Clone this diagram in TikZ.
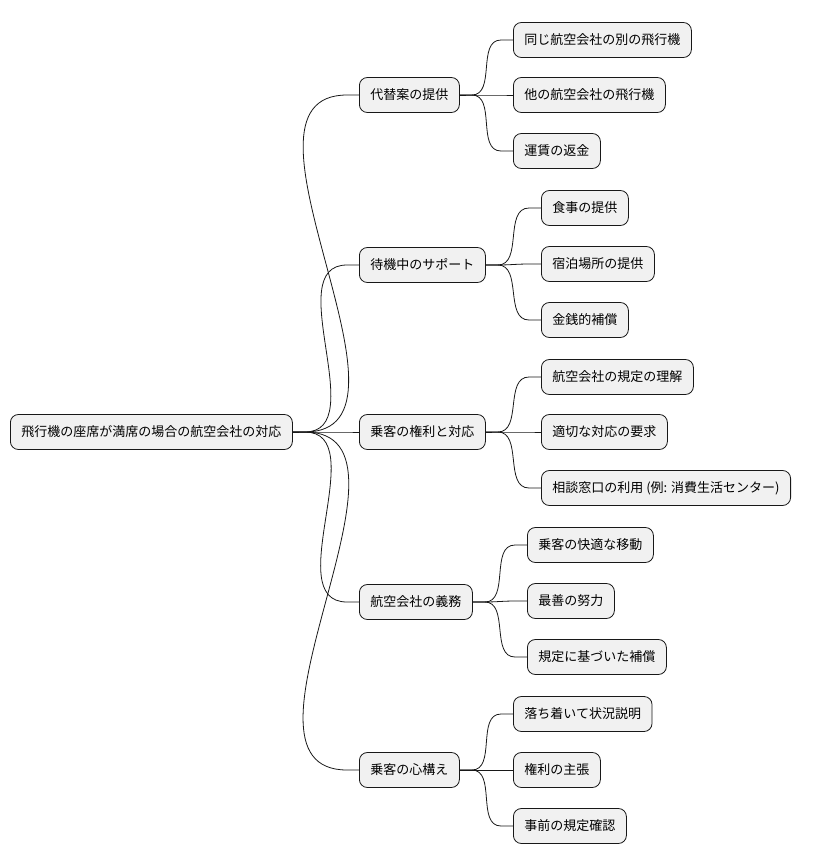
\documentclass[tikz,border=0pt]{standalone}
\usepackage{fontspec}
\setmainfont{Noto Sans CJK JP}
\usetikzlibrary{calc}
\definecolor{boxfill}{HTML}{F1F1F1}
\definecolor{boxline}{HTML}{181818}
\tikzset{
  topic/.style={draw=boxline, fill=boxfill, rounded corners=8pt, minimum height=35pt,
    inner xsep=11pt, anchor=west, font=\fontsize{13}{15}\selectfont, line width=0.8pt},
  branch/.style={draw=boxline, line width=0.8pt}
}
\newcommand{\branchto}[2]{\draw[branch] (#1.east) -- ++(12,0) to[out=0,in=180] ($(#2.west)+(-12,0)$) -- (#2.west);}
\begin{document}
\begin{tikzpicture}[x=1pt,y=-1pt]
  \useasboundingbox (0,0) rectangle (821,865);
  % root
  \node[topic] (root) at (10,432) {飛行機の座席が満席の場合の航空会社の対応};

  % main branches
  \node[topic] (alt) at (359,95) {代替案の提供};
  \node[topic] (wait) at (359,265) {待機中のサポート};
  \node[topic] (right) at (359,432) {乗客の権利と対応};
  \node[topic] (duty) at (359,602) {航空会社の義務};
  \node[topic] (mind) at (359,770) {乗客の心構え};

  % leaves
  \node[topic] (alt1) at (513,40) {同じ航空会社の別の飛行機};
  \node[topic] (alt2) at (513,95) {他の航空会社の飛行機};
  \node[topic] (alt3) at (513,151) {運賃の返金};
  \node[topic] (wait1) at (541,208) {食事の提供};
  \node[topic] (wait2) at (541,264) {宿泊場所の提供};
  \node[topic] (wait3) at (541,320) {金銭的補償};
  \node[topic] (right1) at (541,377) {航空会社の規定の理解};
  \node[topic] (right2) at (541,432) {適切な対応の要求};
  \node[topic] (right3) at (541,488) {相談窓口の利用 (例: 消費生活センター)};
  \node[topic] (duty1) at (527,545) {乗客の快適な移動};
  \node[topic] (duty2) at (527,601) {最善の努力};
  \node[topic] (duty3) at (527,657) {規定に基づいた補償};
  \node[topic] (mind1) at (513,714) {落ち着いて状況説明};
  \node[topic] (mind2) at (513,770) {権利の主張};
  \node[topic] (mind3) at (513,826) {事前の規定確認};

  % connectors
  \foreach \b in {alt,wait,right,duty,mind}{
    \branchto{root}{\b}
    \foreach \i in {1,2,3}{\branchto{\b}{\b\i}}
  }
\end{tikzpicture}
\end{document}
